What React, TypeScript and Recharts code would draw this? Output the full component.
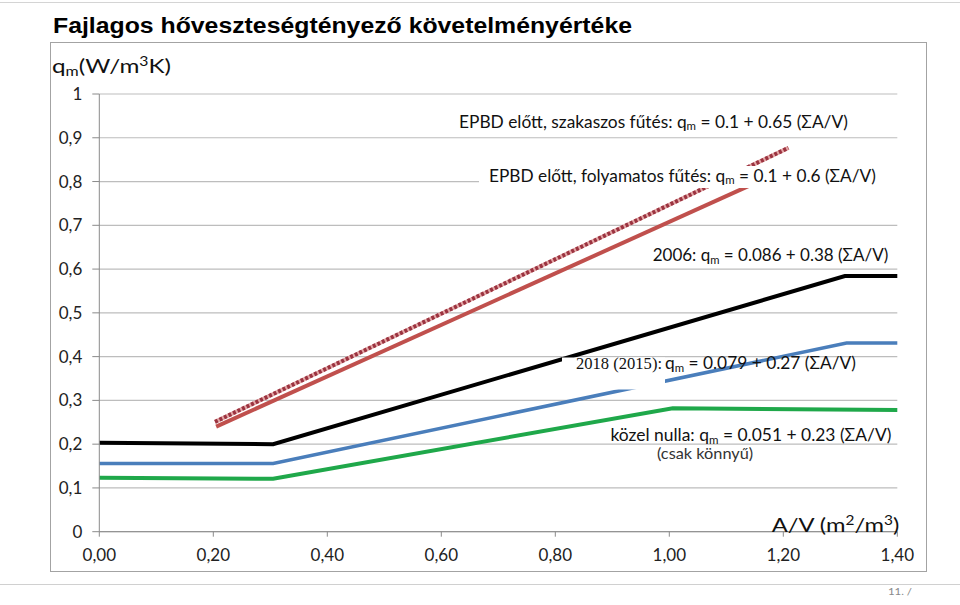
import { LineChart, Line, XAxis, YAxis, CartesianGrid } from 'recharts'

// A/V (m2/m3) -> qm (W/m3K)
const avTicks = [0, 0.2, 0.4, 0.6, 0.8, 1.0, 1.2, 1.4]
const qmTicks = [0, 0.1, 0.2, 0.3, 0.4, 0.5, 0.6, 0.7, 0.8, 0.9, 1]

const szakaszos = [
  { av: 0.203, qm: 0.251 },
  { av: 1.209, qm: 0.877 },
]
const folyamatos = [
  { av: 0.205, qm: 0.24 },
  { av: 1.16, qm: 0.802 },
]
const req2006 = [
  { av: 0, qm: 0.203 },
  { av: 0.305, qm: 0.2 },
  { av: 1.308, qm: 0.584 },
  { av: 1.4, qm: 0.584 },
]
const req2018 = [
  { av: 0, qm: 0.156 },
  { av: 0.305, qm: 0.156 },
  { av: 1.311, qm: 0.431 },
  { av: 1.4, qm: 0.431 },
]
const kozelNulla = [
  { av: 0, qm: 0.123 },
  { av: 0.305, qm: 0.121 },
  { av: 1.006, qm: 0.282 },
  { av: 1.4, qm: 0.278 },
]

const fmtX = (v: number) => v.toFixed(2).replace('.', ',')
const fmtY = (v: number) => (v === 0 || v === 1 ? String(v) : v.toFixed(1).replace('.', ','))

const sans = 'Lato, "Open Sans", sans-serif'
const tickStyle = { fontFamily: sans, fontSize: 17, fill: '#222' }

// "q" + subscript m + rest of the formula
function Qm({ pre, rest }: { pre: string; rest: string }) {
  return (
    <>
      {pre}q<tspan fontSize="0.66em" dy={2.5}>m</tspan>
      <tspan dy={-2.5}>{rest}</tspan>
    </>
  )
}

export default function App() {
  return (
    <div style={{ position: 'absolute', left: 0, top: 0, width: 960, height: 605, background: '#fff', overflow: 'hidden' }}>
      <div style={{ position: 'absolute', left: 0, top: 2, width: 960, height: 0, borderTop: '1.5px solid #d4d4d4' }} />
      <div style={{ position: 'absolute', left: 50, top: 42, width: 875, height: 528, border: '1.5px solid #a3a3a3' }} />
      <div style={{ position: 'absolute', left: 0, top: 584, width: 960, height: 0, borderTop: '1.5px solid #d0d0d0' }} />

      <div style={{ position: 'absolute', left: 0, top: 0 }}>
        <LineChart width={960} height={605} margin={{ top: 94, right: 62.7, bottom: 43.3, left: 49.3 }}>
          <CartesianGrid vertical={false} stroke="#bdbdbd" strokeWidth={1.2} />
          <XAxis
            type="number"
            dataKey="av"
            domain={[0, 1.4]}
            ticks={avTicks}
            tickFormatter={fmtX}
            height={30}
            stroke="#8a8a8a"
            tickSize={5}
            tickMargin={12}
            tick={tickStyle}
            interval={0}
          />
          <YAxis
            type="number"
            dataKey="qm"
            domain={[0, 1]}
            ticks={qmTicks}
            tickFormatter={fmtY}
            width={50}
            stroke="#8a8a8a"
            tickSize={7}
            tickMargin={10}
            tick={tickStyle}
            interval={0}
          />
          <Line data={kozelNulla} dataKey="qm" stroke="#1fa84a" strokeWidth={4} dot={false} isAnimationActive={false} />
          <Line data={req2018} dataKey="qm" stroke="#4a7ebb" strokeWidth={3.5} dot={false} isAnimationActive={false} />
          <Line data={req2006} dataKey="qm" stroke="#000" strokeWidth={4} dot={false} isAnimationActive={false} />
          <Line data={folyamatos} dataKey="qm" stroke="#c0504d" strokeWidth={4} dot={false} isAnimationActive={false} />
          <Line data={szakaszos} dataKey="qm" stroke="#e3a6a6" strokeWidth={4} dot={false} isAnimationActive={false} />
          <Line data={szakaszos} dataKey="qm" stroke="#9b3340" strokeWidth={4} strokeDasharray="3 2" dot={false} isAnimationActive={false} />
        </LineChart>
      </div>

      <svg width={960} height={605} style={{ position: 'absolute', left: 0, top: 0, pointerEvents: 'none' }}>
        <text x={53} y={32.5} fontFamily='"Liberation Sans", Arial, sans-serif' fontWeight="bold" fontSize={22} fill="#000"
          textLength={579} lengthAdjust="spacingAndGlyphs">
          Fajlagos hőveszteségtényező követelményértéke
        </text>

        <text x={52} y={73} fontFamily={sans} fontSize={20} fill="#111" textLength={119} lengthAdjust="spacingAndGlyphs">
          <Qm pre="" rest="(W/m" /><tspan fontSize="0.65em" dy={-7}>3</tspan><tspan dy={7}>K)</tspan>
        </text>

        <text x={459} y={127.7} fontFamily={sans} fontSize={17} fill="#111" textLength={389} lengthAdjust="spacingAndGlyphs">
          <Qm pre="EPBD előtt, szakaszos fűtés: " rest=" = 0.1 + 0.65 (ΣA/V)" />
        </text>

        <rect x={479} y={166} width={419} height={22} fill="#fff" />
        <text x={489} y={181.7} fontFamily={sans} fontSize={17} fill="#111" textLength={387} lengthAdjust="spacingAndGlyphs">
          <Qm pre="EPBD előtt, folyamatos fűtés: " rest=" = 0.1 + 0.6 (ΣA/V)" />
        </text>

        <text x={652.7} y={261} fontFamily={sans} fontSize={17} fill="#111" textLength={235.6} lengthAdjust="spacingAndGlyphs">
          <Qm pre="2006: " rest=" = 0.086 + 0.38 (ΣA/V)" />
        </text>

        <rect x={562} y={357.5} width={103} height={32} fill="#fff" />
        <text x={576} y={369} fontFamily='"Liberation Serif", "Times New Roman", serif' fontSize={17} fill="#111"
          textLength={86} lengthAdjust="spacingAndGlyphs">
          2018 (2015):
        </text>
        <text x={665} y={369} fontFamily={sans} fontSize={17} fill="#111" textLength={191} lengthAdjust="spacingAndGlyphs">
          <Qm pre="" rest=" = 0.079 + 0.27 (ΣA/V)" />
        </text>

        <text x={610.5} y={441} fontFamily={sans} fontSize={17} fill="#111" textLength={281} lengthAdjust="spacingAndGlyphs">
          <Qm pre="közel nulla: " rest=" = 0.051 + 0.23 (ΣA/V)" />
        </text>
        <text x={657} y={459} fontFamily={sans} fontSize={15} fill="#333" textLength={96} lengthAdjust="spacingAndGlyphs">
          (csak könnyű)
        </text>

        <text x={771.7} y={531.7} fontFamily={sans} fontSize={20} fill="#111" textLength={127.6} lengthAdjust="spacingAndGlyphs">
          A/V (m<tspan fontSize="0.65em" dy={-7}>2</tspan><tspan dy={7}>/m</tspan><tspan fontSize="0.65em" dy={-7}>3</tspan><tspan dy={7}>)</tspan>
        </text>

        <text x={888} y={595} fontFamily={sans} fontSize={10} fill="#8a8a8a" textLength={24} lengthAdjust="spacingAndGlyphs">
          11. /
        </text>
      </svg>
    </div>
  )
}
